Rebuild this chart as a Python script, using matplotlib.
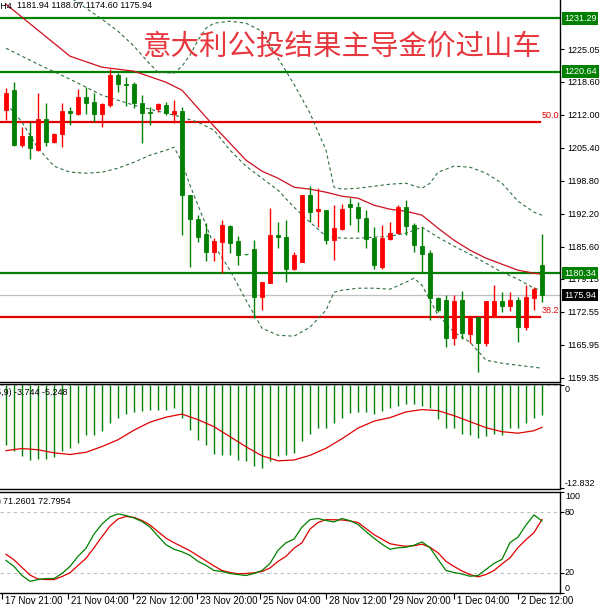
import matplotlib
matplotlib.use('Agg')
import matplotlib.pyplot as plt
from matplotlib.transforms import blended_transform_factory as btf, offset_copy
import numpy as np

plt.rcParams['font.family'] = ['Liberation Sans', 'Noto Sans CJK SC', 'DejaVu Sans']

# ---------------- data ----------------
opens = [1212.9, 1217.0, 1205.9, 1207.7, 1204.9, 1211.1, 1206.6, 1208.1, 1212.8, 1212.1,
         1215.5, 1214.6, 1212.1, 1213.9, 1219.9, 1218.1, 1218.1, 1214.4, 1212.6, 1213.1,
         1213.9, 1212.1, 1212.8, 1195.9, 1191.1, 1188.1, 1184.6, 1186.6, 1189.7, 1186.8,
         1184.1, 1185.1, 1175.6, 1178.3, 1187.9, 1187.6, 1181.1, 1182.6, 1195.9, 1192.7,
         1192.9, 1186.9, 1189.1, 1194.1, 1193.5, 1191.3, 1187.3, 1181.6, 1187.1, 1188.4,
         1193.6, 1189.9, 1185.7, 1184.4, 1175.3, 1174.9, 1167.3, 1174.9, 1168.1, 1171.6,
         1166.4, 1171.6, 1174.8, 1173.7, 1174.9, 1169.6, 1175.3, 1181.94]
highs = [1217.3, 1218.6, 1209.6, 1210.6, 1216.3, 1214.4, 1208.4, 1214.3, 1213.6, 1217.1,
         1217.6, 1216.4, 1214.4, 1221.1, 1220.4, 1219.5, 1218.6, 1215.9, 1213.6, 1214.4,
         1214.6, 1214.9, 1213.6, 1196.0, 1191.9, 1190.3, 1187.3, 1190.9, 1189.9, 1187.7,
         1184.2, 1186.9, 1178.6, 1193.3, 1190.6, 1190.9, 1184.6, 1196.0, 1197.7, 1197.3,
         1192.9, 1193.9, 1194.1, 1195.3, 1194.6, 1192.9, 1189.6, 1189.9, 1190.6, 1193.9,
         1194.9, 1190.3, 1189.6, 1184.9, 1175.6, 1175.9, 1175.9, 1176.8, 1171.6, 1171.6,
         1174.8, 1177.9, 1176.6, 1176.6, 1175.6, 1177.9, 1177.6, 1188.07]
lows = [1210.9, 1205.8, 1205.6, 1203.1, 1204.8, 1205.7, 1206.3, 1205.5, 1209.9, 1211.9,
        1212.1, 1210.6, 1209.6, 1213.6, 1216.6, 1213.7, 1213.3, 1206.3, 1209.9, 1212.6,
        1212.0, 1210.3, 1187.9, 1181.6, 1186.6, 1182.8, 1182.8, 1180.4, 1184.3, 1181.9,
        1184.0, 1171.3, 1172.9, 1178.3, 1185.3, 1178.6, 1181.0, 1182.5, 1190.6, 1189.6,
        1186.1, 1182.9, 1188.9, 1189.9, 1188.6, 1185.3, 1181.1, 1181.1, 1187.0, 1188.2,
        1187.9, 1184.6, 1180.3, 1170.9, 1172.6, 1165.6, 1165.9, 1167.1, 1166.3, 1160.6,
        1165.7, 1171.6, 1172.6, 1172.8, 1166.6, 1168.9, 1172.9, 1174.60]
closes = [1216.3, 1206.0, 1207.7, 1205.3, 1211.1, 1206.6, 1208.1, 1212.7, 1212.3, 1215.5,
          1214.4, 1212.1, 1214.1, 1219.9, 1218.1, 1217.9, 1214.4, 1212.4, 1212.3, 1214.1,
          1212.3, 1212.8, 1195.9, 1191.1, 1187.5, 1184.6, 1186.8, 1189.9, 1186.4, 1183.9,
          1184.1, 1175.6, 1178.6, 1187.9, 1187.6, 1181.1, 1183.9, 1195.9, 1192.6, 1193.1,
          1186.9, 1189.3, 1193.1, 1193.5, 1191.3, 1187.1, 1181.9, 1187.3, 1188.4, 1193.6,
          1189.7, 1185.9, 1184.1, 1175.3, 1172.9, 1167.3, 1174.8, 1168.3, 1171.6, 1166.4,
          1174.8, 1174.8, 1173.7, 1174.9, 1169.6, 1175.5, 1177.1, 1175.94]

ma_idx = [0, 4, 8, 12, 16, 20, 22, 24, 26, 28, 30, 32, 34, 36, 38, 40, 42, 44, 46, 48,
          50, 52, 54, 56, 58, 60, 62, 64, 66, 67]
ma_val = [1234.1, 1228.9, 1223.7, 1221.5, 1220.7, 1218.5, 1216.9, 1213.3, 1209.7, 1206.3,
          1202.9, 1200.7, 1199.3, 1197.5, 1197.1, 1196.5, 1195.7, 1195.3, 1193.9, 1193.1,
          1192.7, 1191.9, 1189.3, 1186.9, 1184.9, 1183.3, 1182.1, 1180.9, 1180.3, 1180.1]

bb_mid_idx = ma_idx
bb_mid = [1225.3, 1222.1, 1219.1, 1215.9, 1213.9, 1212.3, 1211.5, 1210.5, 1208.9, 1204.9,
          1201.7, 1199.3, 1196.9, 1193.5, 1190.5, 1187.7, 1187.3, 1187.3, 1187.5, 1187.7,
          1188.3, 1189.5, 1187.5, 1185.7, 1184.1, 1182.3, 1180.5, 1179.1, 1177.3, 1176.9]

bb_up_idx = [4, 6, 8, 10, 12, 14, 16, 18, 19, 21, 22, 23, 24, 25, 26, 28, 30, 32, 33, 34,
             36, 38, 40, 41, 42, 44, 46, 48, 50, 52, 53, 54, 56, 58, 60, 62, 64, 66, 67]
bb_up = [1239.9, 1237.7, 1235.5, 1233.3, 1231.1, 1228.7, 1225.7, 1222.1, 1220.5, 1220.3,
         1221.7, 1223.9, 1226.9, 1229.3, 1230.3, 1230.7, 1230.3, 1228.7, 1226.1, 1223.3,
         1218.1, 1212.3, 1204.9, 1197.5, 1197.1, 1197.3, 1197.7, 1198.1, 1198.3, 1197.3,
         1198.3, 1200.5, 1201.7, 1201.5, 1200.3, 1198.3, 1194.7, 1192.5, 1191.9]

bb_lo_idx = [0, 1, 2, 4, 6, 8, 10, 12, 14, 16, 18, 20, 21, 22, 23, 24, 26, 28, 30, 32,
             34, 36, 38, 40, 41, 42, 44, 46, 48, 50, 51, 52, 53, 54, 56, 58, 60, 62, 64, 66, 67]
bb_lo = [1214.1, 1212.5, 1210.5, 1205.3, 1201.7, 1200.5, 1200.3, 1200.5, 1201.3, 1202.5,
         1203.9, 1204.9, 1205.5, 1202.5, 1197.9, 1193.9, 1185.9, 1180.9, 1174.9, 1169.3,
         1167.9, 1167.7, 1169.5, 1172.9, 1176.5, 1176.9, 1177.3, 1177.3, 1177.1, 1178.5,
         1179.3, 1177.9, 1174.9, 1171.9, 1168.5, 1166.5, 1162.9, 1162.3, 1161.9, 1161.5, 1161.3]

levels_green = [1231.29, 1220.64, 1180.34]
fib_levels = [1210.6, 1171.6]
fib_labels = ['50.0', '38.2']
bid_price = 1175.94
price_ticks = [1225.05, 1218.60, 1212.00, 1205.40, 1198.80, 1192.20, 1185.60,
               1179.15, 1172.55, 1165.95, 1159.35]

macd_hist = [-7.47, -8.22, -8.84, -9.25, -9.13, -9.13, -8.97, -8.22, -7.81, -7.19,
             -6.23, -6.14, -5.73, -4.69, -4.07, -3.57, -3.32, -3.24, -3.15, -3.15,
             -3.11, -2.90, -4.07, -5.52, -6.76, -7.47, -8.56, -8.63, -8.63, -9.25,
             -9.38, -10.09, -10.30, -9.38, -8.84, -8.72, -8.43, -6.97, -6.06, -5.39,
             -5.32, -4.77, -4.07, -3.45, -3.36, -3.36, -3.57, -3.24, -2.90, -2.62,
             -2.40, -2.40, -2.62, -2.90, -4.27, -5.32, -5.39, -6.06, -6.14, -6.56,
             -6.35, -6.06, -6.14, -5.39, -5.32, -4.69, -4.15, -3.744]
sig_idx = [0, 2, 4, 6, 8, 10, 12, 14, 16, 18, 20, 22, 24, 26, 28, 30, 32, 34, 36, 38,
           40, 42, 44, 46, 48, 50, 52, 54, 56, 58, 60, 62, 64, 66, 67]
macd_sig = [-8.14, -7.88, -8.03, -8.41, -8.62, -8.34, -7.63, -6.79, -5.60, -4.61,
            -3.99, -3.61, -4.30, -5.17, -6.41, -7.66, -8.78, -9.40, -9.30, -8.72,
            -7.85, -6.66, -5.35, -4.48, -4.05, -3.34, -3.05, -3.18, -3.80, -4.55,
            -5.29, -5.79, -5.98, -5.67, -5.248]
macd_min = -12.832

stoch_k = [32.3, 26.3, 17.3, 11.6, 13.3, 14.3, 14.3, 19.3, 26.3, 36.3,
           44.3, 58.3, 68.3, 75.3, 78.3, 76.8, 74.3, 70.8, 65.3, 56.3,
           47.8, 43.3, 40.8, 37.3, 31.3, 27.3, 22.3, 21.3, 19.3, 18.3,
           17.3, 19.3, 22.3, 29.3, 42.3, 49.8, 53.3, 65.3, 72.6, 73.8,
           71.8, 70.3, 73.8, 71.6, 67.8, 60.8, 54.3, 48.3, 43.3, 44.8,
           45.3, 47.3, 50.6, 44.8, 33.3, 22.3, 20.3, 18.8, 16.6, 17.3,
           23.3, 29.3, 33.3, 50.0, 55.3, 67.3, 77.3, 71.26]
stoch_d = [38.3, 32.8, 25.3, 17.8, 13.8, 13.3, 13.3, 16.3, 20.0, 27.3,
           34.3, 44.8, 55.8, 66.3, 73.3, 75.8, 74.8, 71.8, 67.3, 60.8,
           54.3, 49.8, 45.8, 41.8, 36.8, 31.8, 26.8, 22.3, 20.3, 19.0,
           19.3, 20.0, 21.3, 24.8, 31.3, 36.3, 44.3, 49.8, 63.3, 69.8,
           72.6, 72.5, 72.3, 71.3, 69.8, 63.8, 57.8, 53.3, 48.8, 47.3,
           46.3, 46.8, 48.3, 45.3, 39.8, 31.3, 26.3, 21.8, 18.3, 16.0,
           18.3, 22.3, 28.8, 34.8, 45.0, 52.8, 59.8, 72.80]
stoch_levels = [20, 80]
stoch_ticks = [100, 80, 20, 0]

time_tick_pos = [-0.5, 7.75, 15.9, 23.9, 31.75, 40, 48, 56, 64]
time_labels = ['17 Nov 21:00', '21 Nov 04:00', '22 Nov 12:00', '23 Nov 20:00', '25 Nov 04:00',
               '28 Nov 12:00', '29 Nov 20:00', '1 Dec 04:00', '2 Dec 12:00']

title = '意大利公投结果主导金价过山车'

# ---------------- figure ----------------
W, H = 600, 611
fig = plt.figure(figsize=(W / 100, H / 100), dpi=100)
fig.patch.set_facecolor('white')

def rect(y0, y1):
    return [0, 1 - y1 / H, 560 / W, (y1 - y0) / H]

GREEN = '#008000'
RED = '#ff0000'
XL = (-0.75, 69.25)

main = fig.add_axes(rect(0, 382))
macd = fig.add_axes(rect(384, 488.5))
stoch = fig.add_axes(rect(492, 593))

for a in (main, macd, stoch):
    a.set_xlim(*XL)
    a.spines['left'].set_visible(False)
    for s in ('right', 'bottom', 'top'):
        a.spines[s].set_linewidth(1.0)
        a.spines[s].set_color('black')
    a.yaxis.tick_right()
    a.tick_params(axis='y', direction='out', length=3, width=0.8, pad=2,
                  labelsize=6.5, colors='black')
    a.set_xticks([])
main.spines['top'].set_visible(False)

# ---- main chart ----
main.set_ylim(1158.54, 1234.94)
main.set_yticks(price_ticks)
main.set_yticklabels(['%.2f' % v for v in price_ticks])

idx = np.arange(len(opens))
o = np.array(opens); c = np.array(closes)
cols = np.where(c > o, RED, GREEN)

for lv in levels_green:
    main.axhline(lv, color=GREEN, lw=1.6, zorder=1)
main.axhline(bid_price, color='#c0c0c0', lw=0.9, zorder=1)
for lv in fib_levels:
    main.plot([XL[0], 66.8], [lv, lv], color='#e00000', lw=1.6, zorder=1)
for lv, lab in zip(fib_levels, fib_labels):
    main.text(66.9, lv + 0.35, lab, color='#e00000', fontsize=6.5, ha='left', va='bottom')

main.plot(bb_up_idx, bb_up, color='#2f6f3f', lw=0.8, ls=(0, (3, 2.5)), zorder=2)
main.plot(bb_mid_idx, bb_mid, color='#2f6f3f', lw=0.8, ls=(0, (3, 2.5)), zorder=2)
main.plot(bb_lo_idx, bb_lo, color='#2f6f3f', lw=0.8, ls=(0, (3, 2.5)), zorder=2)
main.plot(ma_idx, ma_val, color='#cc1020', lw=0.9, zorder=2)

main.vlines(idx, lows, highs, colors=cols, lw=1.0, zorder=3)
main.bar(idx, np.abs(c - o), bottom=np.minimum(o, c), width=0.6, color=cols,
         edgecolor=cols, lw=0.6, zorder=4)

tr_r = offset_copy(btf(main.transAxes, main.transData), fig=fig, x=4, y=0, units='dots')
for lv in levels_green:
    main.text(1.0, lv, '%.2f' % lv, transform=tr_r, ha='left', va='center', color='white',
              fontsize=6.5, clip_on=False, zorder=10,
              bbox=dict(boxstyle='square,pad=0.22', fc=GREEN, ec='none'))
main.text(1.0, bid_price, '%.2f' % bid_price, transform=tr_r, ha='left', va='center',
          color='white', fontsize=6.5, clip_on=False, zorder=10,
          bbox=dict(boxstyle='square,pad=0.22', fc='black', ec='none'))

fig.text(342 / W, 1 - 47 / H, title, fontsize=20.5, color='#e8383f',
         family=['Noto Sans CJK SC'], ha='center', va='center')
fig.text(13 / W, 1 - 6 / H, 'XAUUSD,H4', ha='right', va='center', fontsize=6.5)
fig.text(17 / W, 1 - 6 / H, '1181.94 1188.07 1174.60 1175.94', ha='left', va='center',
         fontsize=6.5)

# ---- MACD ----
macd.set_ylim(macd_min, 0.12)
macd.axhline(0, color='#c0c0c0', lw=0.8, ls=(0, (3, 3)), zorder=1)
macd.vlines(idx, macd_hist, 0, colors=GREEN, lw=1.0, zorder=2)
macd.plot(sig_idx, macd_sig, color='#e00000', lw=0.9, zorder=3)
macd.set_yticks([0, macd_min])
macd.set_yticklabels([])
tr_m = offset_copy(btf(macd.transAxes, macd.transData), fig=fig, x=5, y=0, units='dots')
macd.text(1.0, 0, '0', transform=tr_m, ha='left', va='top', fontsize=6.5, clip_on=False)
macd.text(1.0, macd_min, '%.3f' % macd_min, transform=tr_m, ha='left', va='bottom',
          fontsize=6.5, clip_on=False)
fig.text(12 / W, 1 - 392.7 / H, 'MACD(12,26,9)', ha='right', va='center', fontsize=6.5)
fig.text(14 / W, 1 - 392.7 / H, '-3.744 -5.248', ha='left', va='center', fontsize=6.5)

# ---- Stochastic ----
stoch.set_ylim(0, 100)
for lv in stoch_levels:
    stoch.axhline(lv, color='#c0c0c0', lw=0.8, ls=(0, (3, 3)), zorder=1)
stoch.plot(idx, stoch_k, color=GREEN, lw=0.9, zorder=3)
stoch.plot(idx, stoch_d, color='#e00000', lw=0.9, zorder=2)
stoch.set_yticks(stoch_ticks)
stoch.set_yticklabels([])
tr_s = offset_copy(btf(stoch.transAxes, stoch.transData), fig=fig, x=5, y=0, units='dots')
for v in stoch_ticks:
    va = 'top' if v == 100 else ('bottom' if v == 0 else 'center')
    stoch.text(1.0, v, str(v), transform=tr_s, ha='left', va=va, fontsize=6.5, clip_on=False)
fig.text(2 / W, 1 - 501.7 / H, 'Stoch(14,3,3)', ha='right', va='center', fontsize=6.5)
fig.text(3 / W, 1 - 501.7 / H, '71.2601 72.7954', ha='left', va='center', fontsize=6.5)

stoch.set_xticks(time_tick_pos)
stoch.set_xticklabels([])
stoch.tick_params(axis='x', direction='out', length=4, width=0.8)
tr_x = offset_copy(btf(stoch.transData, stoch.transAxes), fig=fig, x=3, y=-8, units='dots')
for p, lab in zip(time_tick_pos, time_labels):
    stoch.text(p, 0, lab, transform=tr_x, ha='left', va='center', fontsize=7, clip_on=False)

fig.savefig('out.png', dpi=100, facecolor='white')
